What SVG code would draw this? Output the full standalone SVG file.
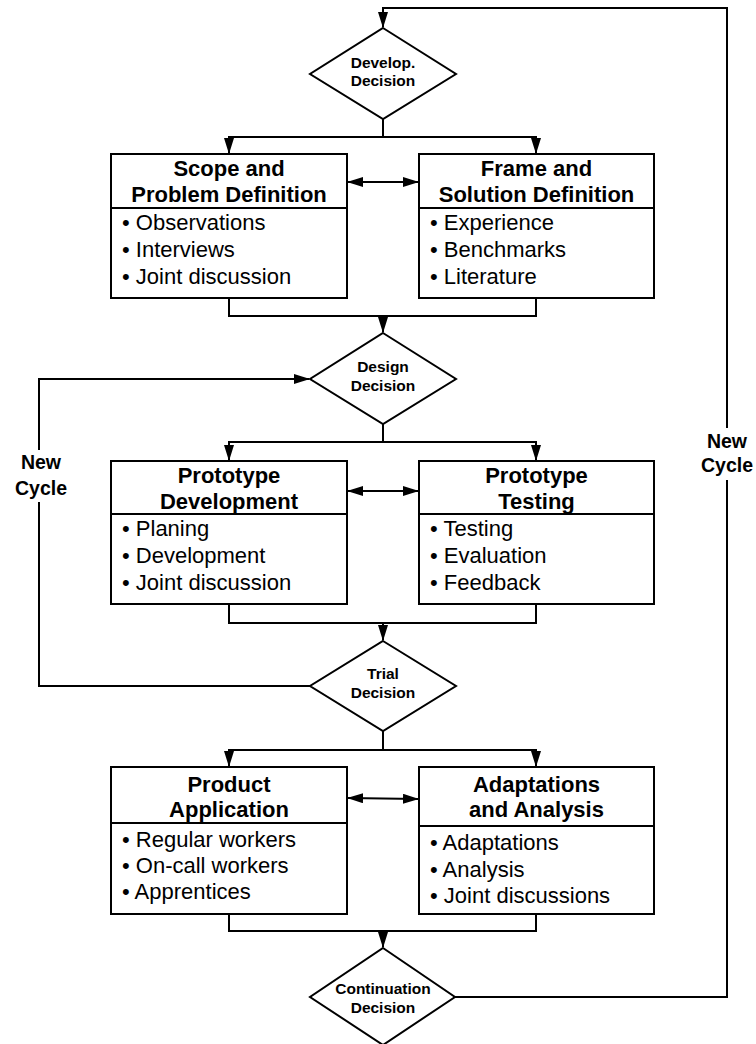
<svg xmlns="http://www.w3.org/2000/svg" width="756" height="1044" viewBox="0 0 756 1044">
<style>
.ln{fill:none;stroke:#000;stroke-width:2}
.bx{fill:#fff;stroke:#000;stroke-width:2}
.t{font-family:"Liberation Sans",Arial,sans-serif;font-weight:bold;font-size:22px;text-anchor:middle;fill:#000}
.b{font-family:"Liberation Sans",Arial,sans-serif;font-size:22px;fill:#000}
.d{font-family:"Liberation Sans",Arial,sans-serif;font-weight:bold;font-size:15.5px;text-anchor:middle;fill:#000}
.nc{font-family:"Liberation Sans",Arial,sans-serif;font-weight:bold;font-size:19.5px;text-anchor:middle;fill:#000}
</style>
<defs>
<marker id="ah" markerUnits="userSpaceOnUse" markerWidth="16" markerHeight="10" refX="15" refY="5" orient="auto-start-reverse" viewBox="0 0 16 10">
<path d="M0,0 L16,5 L0,10 z" fill="#000"/>
</marker>
</defs>
<rect width="756" height="1044" fill="#fff"/>
<g id="connectors">
<path class="ln" d="M455,997 H727 V8 H383 V27" marker-end="url(#ah)"/>
<path class="ln" d="M310,686 H39 V379 H309" marker-end="url(#ah)"/>
<path class="ln" d="M383,119 V137"/>
<path class="ln" d="M229,153 V137 H536 V153" marker-start="url(#ah)" marker-end="url(#ah)"/>
<path class="ln" d="M229,298 V316 H536 V298"/>
<path class="ln" d="M383,316 V332" marker-end="url(#ah)"/>
<path class="ln" d="M348,182 H418" marker-start="url(#ah)" marker-end="url(#ah)"/>
<path class="ln" d="M383,424 V442"/>
<path class="ln" d="M229,460 V442 H536 V460" marker-start="url(#ah)" marker-end="url(#ah)"/>
<path class="ln" d="M229,604 V623 H536 V604"/>
<path class="ln" d="M383,623 V640" marker-end="url(#ah)"/>
<path class="ln" d="M348,491 H418" marker-start="url(#ah)" marker-end="url(#ah)"/>
<path class="ln" d="M383,731 V750"/>
<path class="ln" d="M229,766 V750 H536 V766" marker-start="url(#ah)" marker-end="url(#ah)"/>
<path class="ln" d="M229,914 V931 H536 V914"/>
<path class="ln" d="M383,931 V947" marker-end="url(#ah)"/>
<path class="ln" d="M348,798 L418,799" marker-start="url(#ah)" marker-end="url(#ah)"/>
<rect x="698" y="428" width="58" height="52" fill="#fff"/>
<text class="nc" x="727" y="448">New</text>
<text class="nc" x="727" y="472">Cycle</text>
<rect x="8" y="450" width="66" height="52" fill="#fff"/>
<text class="nc" x="41" y="469">New</text>
<text class="nc" x="41" y="495">Cycle</text>
</g>
<g id="develop-decision">
<polygon class="bx" points="383,28 456,74 383,119 310,74"/>
<text class="d" x="383" y="68">Develop.</text>
<text class="d" x="383" y="86">Decision</text>
</g>
<g id="scope-problem">
<rect class="bx" x="111" y="154" width="236" height="144"/>
<line class="ln" x1="111" y1="208" x2="347" y2="208"/>
<text class="t" x="229" y="176">Scope and</text>
<text class="t" x="229" y="202">Problem Definition</text>
<text class="b" x="122" y="230">• Observations</text>
<text class="b" x="122" y="257">• Interviews</text>
<text class="b" x="122" y="284">• Joint discussion</text>
</g>
<g id="frame-solution">
<rect class="bx" x="419" y="154" width="235" height="144"/>
<line class="ln" x1="419" y1="208" x2="654" y2="208"/>
<text class="t" x="536.5" y="176">Frame and</text>
<text class="t" x="536.5" y="202">Solution Definition</text>
<text class="b" x="430" y="230">• Experience</text>
<text class="b" x="430" y="257">• Benchmarks</text>
<text class="b" x="430" y="284">• Literature</text>
</g>
<g id="design-decision">
<polygon class="bx" points="383,333 456,379 383,424 310,379"/>
<text class="d" x="383" y="372">Design</text>
<text class="d" x="383" y="391">Decision</text>
</g>
<g id="prototype-development">
<rect class="bx" x="111" y="461" width="236" height="143"/>
<line class="ln" x1="111" y1="514" x2="347" y2="514"/>
<text class="t" x="229" y="483">Prototype</text>
<text class="t" x="229" y="509">Development</text>
<text class="b" x="122" y="536">• Planing</text>
<text class="b" x="122" y="563">• Development</text>
<text class="b" x="122" y="590">• Joint discussion</text>
</g>
<g id="prototype-testing">
<rect class="bx" x="419" y="461" width="235" height="143"/>
<line class="ln" x1="419" y1="514" x2="654" y2="514"/>
<text class="t" x="536.5" y="483">Prototype</text>
<text class="t" x="536.5" y="509">Testing</text>
<text class="b" x="430" y="536">• Testing</text>
<text class="b" x="430" y="563">• Evaluation</text>
<text class="b" x="430" y="590">• Feedback</text>
</g>
<g id="trial-decision">
<polygon class="bx" points="383,641 456,686 383,731 310,686"/>
<text class="d" x="383" y="679">Trial</text>
<text class="d" x="383" y="698">Decision</text>
</g>
<g id="product-application">
<rect class="bx" x="111" y="767" width="236" height="147"/>
<line class="ln" x1="111" y1="823" x2="347" y2="823"/>
<text class="t" x="229" y="792">Product</text>
<text class="t" x="229" y="817">Application</text>
<text class="b" x="122" y="847">• Regular workers</text>
<text class="b" x="122" y="873">• On-call workers</text>
<text class="b" x="122" y="899">• Apprentices</text>
</g>
<g id="adaptations-analysis">
<rect class="bx" x="419" y="767" width="235" height="147"/>
<line class="ln" x1="419" y1="826" x2="654" y2="826"/>
<text class="t" x="536.5" y="792">Adaptations</text>
<text class="t" x="536.5" y="817">and Analysis</text>
<text class="b" x="430" y="850">• Adaptations</text>
<text class="b" x="430" y="877">• Analysis</text>
<text class="b" x="430" y="903">• Joint discussions</text>
</g>
<g id="continuation-decision">
<polygon class="bx" points="383,948 455,997 383,1045 310,997"/>
<text class="d" x="383" y="994">Continuation</text>
<text class="d" x="383" y="1013">Decision</text>
</g>
</svg>
